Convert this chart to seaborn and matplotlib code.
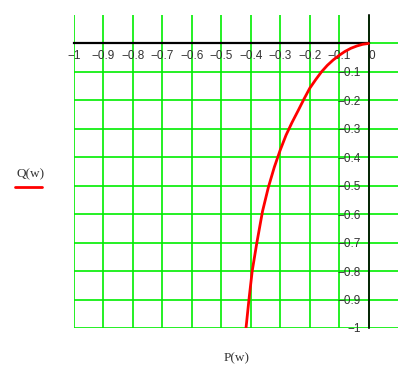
import matplotlib
matplotlib.use("Agg")
import matplotlib.pyplot as plt
import seaborn as sns
from matplotlib.lines import Line2D

# ── Data ──────────────────────────────────────────────────────
P = [0.0, -0.02, -0.04, -0.06, -0.08, -0.10, -0.12, -0.14, -0.16, -0.18,
     -0.20, -0.22, -0.24, -0.26, -0.28, -0.30, -0.32, -0.34, -0.36, -0.38,
     -0.395, -0.406, -0.416]
Q = [0.0, -0.003, -0.009, -0.017, -0.028, -0.042, -0.058, -0.077, -0.100, -0.128,
     -0.158, -0.197, -0.238, -0.278, -0.322, -0.375, -0.435, -0.505, -0.590, -0.705,
     -0.800, -0.900, -1.0]

x_ticks = [-1, -0.9, -0.8, -0.7, -0.6, -0.5, -0.4, -0.3, -0.2, -0.1, 0]
x_labels = ['\u22121', '\u22120.9', '\u22120.8', '\u22120.7', '\u22120.6', '\u22120.5',
            '\u22120.4', '\u22120.3', '\u22120.2', '\u22120.1', '0']
y_ticks = [-1, -0.9, -0.8, -0.7, -0.6, -0.5, -0.4, -0.3, -0.2, -0.1, 0]
y_labels = ['\u22121', '\u22120.9', '\u22120.8', '\u22120.7', '\u22120.6', '\u22120.5',
            '\u22120.4', '\u22120.3', '\u22120.2', '\u22120.1', '']

sns.set_style('white')
plt.rcParams['font.family'] = ['Liberation Sans', 'DejaVu Sans']

fig = plt.figure(figsize=(4.2, 3.79), dpi=100)
ax = fig.add_axes([74 / 420, 1 - 328 / 379, (398 - 74) / 420, (328 - 15) / 379])

GREEN = '#00ee00'
ax.set_xlim(-1, 0.1)
ax.set_ylim(-1, 0.1)
ax.set_xticks(x_ticks)
ax.set_xticklabels(x_labels)
ax.set_yticks(y_ticks)
ax.set_yticklabels(y_labels)
ax.grid(True, color=GREEN, lw=1.2)
ax.set_axisbelow(True)

# axes crossing at the origin, Mathcad style
for s in ['top', 'right']:
    ax.spines[s].set_visible(False)
ax.spines['bottom'].set_position(('data', 0))
ax.spines['left'].set_position(('data', 0))
ax.spines['bottom'].set_bounds(-1, 0)
ax.spines['left'].set_bounds(-1, 0.1)
ax.spines['bottom'].set_linewidth(1.6)
ax.spines['left'].set_linewidth(1.2)
ax.spines['bottom'].set_color('black')
ax.spines['left'].set_color('black')
ax.spines['bottom'].set_zorder(1.5)
ax.spines['left'].set_zorder(1.5)

ax.tick_params(axis='x', direction='in', length=3.5, width=1, color='black',
               pad=5, labelsize=8.5, labelcolor='#333333')
ax.tick_params(axis='y', direction='inout', length=7, width=1, color='black',
               pad=2, labelsize=8.5, labelcolor='#333333')
# the "0" label sits just right of the vertical axis
ax.get_xticklabels()[-1].set_horizontalalignment('left')

sns.lineplot(x=P, y=Q, sort=False, color='red', lw=2, ax=ax, zorder=3)
ax.set_xlabel('')
ax.set_ylabel('')

fig.text(237 / 420, 1 - 358 / 379, 'P(w)', ha='center', va='center',
         fontsize=9.5, family='Liberation Serif', color='#333333')
fig.text(31 / 420, 1 - 174 / 379, 'Q(w)', ha='center', va='center',
         fontsize=9.5, family='Liberation Serif', color='#333333')
fig.add_artist(Line2D([15 / 420, 42 / 420], [1 - 187 / 379, 1 - 187 / 379],
                      color='red', lw=2, transform=fig.transFigure))

fig.savefig('out.png', dpi=100)
